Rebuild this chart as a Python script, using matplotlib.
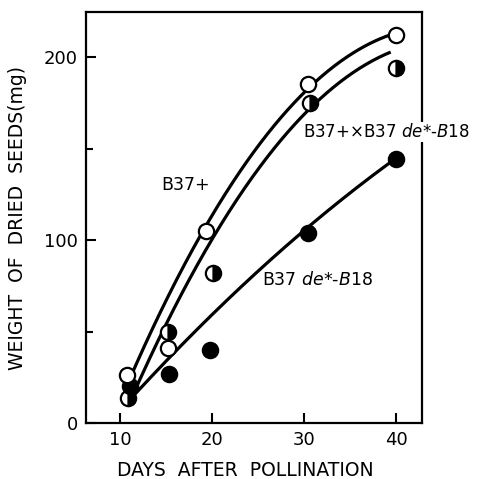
import numpy as np
import matplotlib
matplotlib.use("Agg")
import matplotlib.pyplot as plt

days_plus = [10.8, 15.2, 19.3, 30.4, 40.0]
wt_plus = [26, 41, 105, 185, 212]

days_f1 = [10.9, 15.2, 20.1, 30.6, 40.0]
wt_f1 = [13.5, 50, 82, 175, 194]

days_de = [11.1, 15.3, 19.8, 30.4, 40.0]
wt_de = [20, 27, 40, 104, 144]

# Fitted curves as drawn in the reference (read at a few days)
curve_plus_x = [10.9, 15.2, 19.1, 24.9, 30.3, 40.0]
curve_plus_y = [25, 66, 104, 151, 185, 212]
curve_f1_x = [11.2, 15.3, 20.7, 25.0, 30.5, 39.4]
curve_f1_y = [17, 52, 104, 140, 175, 201]
curve_de_x = [11.6, 15.3, 20.0, 25.0, 30.4, 40.0]
curve_de_y = [15, 37, 60, 78, 111, 144]

xticks = [10, 20, 30, 40]
yticks = [0, 100, 200]
yminor = [50, 150]

plt.rcParams['font.family'] = ['DejaVu Sans']
fig = plt.figure(figsize=(4.81, 4.79), dpi=100)
ax = fig.add_axes([86/481, 1-423/479, (422-86)/481, (423-12)/479])

def smooth(x, y):
    c = np.polyfit(x, y, 2)
    xs = np.linspace(x[0], x[-1], 200)
    return xs, np.polyval(c, xs)

lw = 2.3
for cx, cy in [(curve_plus_x, curve_plus_y), (curve_f1_x, curve_f1_y), (curve_de_x, curve_de_y)]:
    xs, ys = smooth(cx, cy)
    ax.plot(xs, ys, color='black', lw=lw, solid_capstyle='butt', zorder=2)

ms = 11
mew = 1.6
ax.plot(days_plus, wt_plus, 'o', ms=ms, mfc='white', mec='black', mew=mew, zorder=4)
ax.plot(days_f1, wt_f1, 'o', ms=ms, fillstyle='right', mfc='black', markerfacecoloralt='white',
        mec='black', mew=mew, zorder=3)
ax.plot(days_de, wt_de, 'o', ms=ms, mfc='black', mec='black', mew=mew, zorder=3)

ax.set_xlim(6.3, 42.8)
ax.set_ylim(0, 224.6)
ax.set_xticks(xticks)
ax.set_yticks(yticks)
ax.set_yticks(yminor, minor=True)
ax.tick_params(axis='both', which='major', direction='in', length=7, width=1.5,
               labelsize=13, pad=6)
ax.tick_params(axis='y', which='minor', direction='in', length=5, width=1.5)
for s in ax.spines.values():
    s.set_linewidth(1.6)

ax.set_xlabel('DAYS  AFTER  POLLINATION', fontsize=13.5)
ax.xaxis.set_label_coords(0.473, -0.092)
ax.set_ylabel('WEIGHT  OF  DRIED  SEEDS(mg)', fontsize=13.5, labelpad=12)

fs = 12.5
ax.text(14.5, 130, 'B37+', fontsize=fs, ha='left', va='center')
ax.text(29.9, 159, r'B37+$\times$B37 $\it{de}$*-$\it{B18}$', fontsize=12, ha='left', va='center',
        clip_on=False, zorder=6,
        bbox=dict(facecolor='white', edgecolor='none', pad=0.5))
ax.text(25.4, 78, r'B37 $\it{de}$*-$\it{B18}$', fontsize=fs, ha='left', va='center')

fig.savefig('out.png', dpi=100)
